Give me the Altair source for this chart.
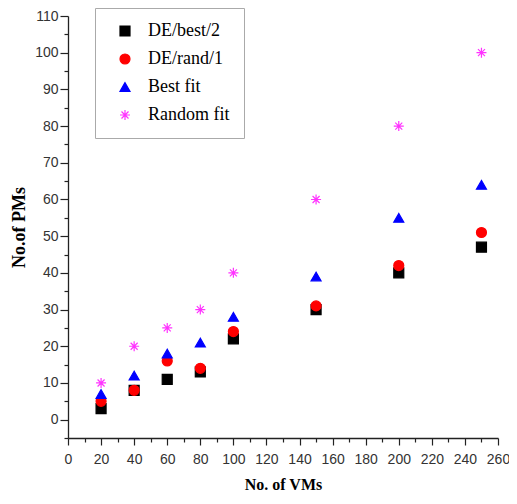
import altair as alt
import pandas as pd

vms = [20, 40, 60, 80, 100, 150, 200, 250]
de_best2 = [3, 8, 11, 13, 22, 30, 40, 47]
de_rand1 = [5, 8, 16, 14, 24, 31, 42, 51]
best_fit = [7, 12, 18, 21, 28, 39, 55, 64]
random_fit = [10, 20, 25, 30, 40, 60, 80, 100]

series_names = ["DE/best/2", "DE/rand/1", "Best fit", "Random fit"]
series_colors = ["#000000", "#ff0000", "#0000ff", "#ff33ff"]
asterisk = "M-1,0L1,0M0,-1L0,1M-0.7,-0.7L0.7,0.7M-0.7,0.7L0.7,-0.7"
series_shapes = ["square", "circle", "triangle-up", asterisk]

x_ticks = list(range(0, 261, 10))
y_ticks = list(range(-5, 111, 5))

rows = []
for name, vals in zip(series_names, [de_best2, de_rand1, best_fit, random_fit]):
    for x, y in zip(vms, vals):
        rows.append({"vms": x, "pms": y, "series": name})
df = pd.DataFrame(rows)

legend = alt.Legend(
    title=None,
    orient="none",
    legendX=27,
    legendY=-8,
    labelFont="Liberation Serif",
    labelFontSize=18,
    labelColor="#000000",
    strokeColor="#aaaaaa",
    padding=14,
    rowPadding=10,
    symbolSize=100,
    symbolStrokeWidth=1.2,
    symbolOffset=7,
    labelOffset=14,
)

chart = alt.Chart(df).mark_point(filled=False, strokeWidth=1.2, opacity=1, size=100).encode(
    x=alt.X("vms:Q", scale=alt.Scale(domain=[0, 260], nice=False, zero=False),
            axis=alt.Axis(
                title="No. of VMs", values=x_ticks,
                labelExpr="datum.value % 20 === 0 ? datum.label : ''",
                tickSize={"condition": {"test": "datum.value % 20 === 0", "value": 7}, "value": 4},
                labelPadding=7, titlePadding=10, labelOverlap=False, labelFlush=False)),
    y=alt.Y("pms:Q", scale=alt.Scale(domain=[-5, 110], nice=False, zero=False),
            axis=alt.Axis(
                title="No.of PMs", values=y_ticks,
                labelExpr="datum.value % 10 === 0 ? datum.label : ''",
                tickSize={"condition": {"test": "datum.value % 10 === 0", "value": 8}, "value": 4},
                labelPadding=2, titlePadding=6, labelOverlap=False, labelFlush=False)),
    fill=alt.Fill("series:N", scale=alt.Scale(domain=series_names, range=series_colors), legend=legend),
    stroke=alt.Stroke("series:N", scale=alt.Scale(domain=series_names, range=series_colors), legend=legend),
    shape=alt.Shape("series:N", scale=alt.Scale(domain=series_names, range=series_shapes), legend=legend),
).properties(
    width=430, height=422,
    autosize=alt.AutoSizeParams(type="none"),
    padding={"left": 60, "top": 8, "right": 11, "bottom": 53},
).configure_view(
    stroke=None
).configure_axis(
    grid=False,
    domainColor="#222222",
    domainWidth=1.3,
    tickColor="#222222",
    tickWidth=1.2,
    labelFont="Liberation Sans",
    labelFontSize=14,
    labelColor="#333333",
    titleFont="Liberation Serif",
    titleFontWeight="bold",
    titleColor="#000000",
).configure_axisX(
    titleFontSize=16,
).configure_axisY(
    titleFontSize=18,
)

chart.save("out.html", embed_options={"renderer": "svg", "actions": False})
